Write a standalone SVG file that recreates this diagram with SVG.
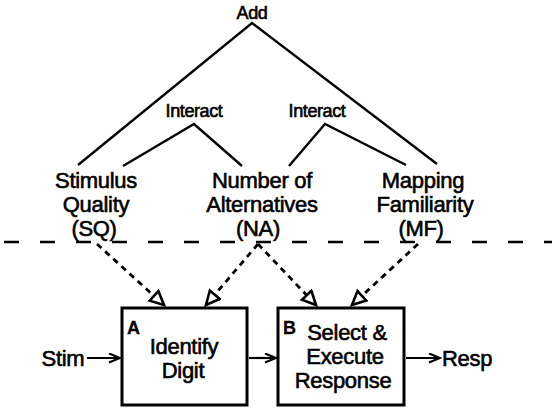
<svg xmlns="http://www.w3.org/2000/svg" width="552" height="408" viewBox="0 0 552 408">
<style>
text{font-family:"Liberation Sans",Arial,sans-serif;fill:#000;stroke:#000;stroke-width:0.6}
.lbl{font-size:22px;text-anchor:middle;letter-spacing:-0.3px}
.op{font-size:18px;text-anchor:middle;letter-spacing:-0.4px}
.tag{font-size:18px;font-weight:bold;stroke-width:0.3}
.tree{stroke:#000;stroke-width:2.4;fill:none}
.box{stroke:#000;stroke-width:3;fill:#fff}
.flow{stroke:#000;stroke-width:2.2;fill:none}
.dash{stroke:#000;stroke-width:2.8;fill:none;stroke-dasharray:6 5}
.sep{stroke:#000;stroke-width:2.5;fill:none;stroke-dasharray:15 21}
</style>
<defs>
<marker id="ah" markerWidth="14" markerHeight="12" refX="12" refY="5" orient="auto" markerUnits="userSpaceOnUse">
<path d="M1,0.5 L12,5 L1,9.5" fill="none" stroke="#000" stroke-width="2.2"/>
</marker>
<marker id="dh" markerWidth="18" markerHeight="18" refX="15" refY="8" orient="auto" markerUnits="userSpaceOnUse">
<path d="M1.5,1.5 L15,8 L1.5,14.5 Z" fill="#fff" stroke="#000" stroke-width="2.6" stroke-linejoin="miter"/>
</marker>
</defs>

<g id="add"><text class="op" x="252" y="19">Add</text></g>
<g id="interact1"><text class="op" x="194" y="117">Interact</text></g>
<g id="interact2"><text class="op" x="317" y="117">Interact</text></g>

<g id="sq"><text class="lbl" x="96" y="188">Stimulus</text><text class="lbl" x="96" y="212">Quality</text><text class="lbl" x="94" y="236">(SQ)</text></g>
<g id="na"><text class="lbl" x="262" y="188">Number of</text><text class="lbl" x="262" y="212">Alternatives</text><text class="lbl" x="258" y="236">(NA)</text></g>
<g id="mf"><text class="lbl" x="423" y="188">Mapping</text><text class="lbl" x="425" y="212">Familiarity</text><text class="lbl" x="421" y="236">(MF)</text></g>

<g id="stim"><text class="lbl" x="63" y="366">Stim</text></g>
<g id="resp"><text class="lbl" x="467" y="366">Resp</text></g>

<g id="boxA">
<rect class="box" x="122" y="308" width="125" height="97"/>
<text class="tag" x="127" y="334">A</text>
<text class="lbl" x="184" y="354">Identify</text>
<text class="lbl" x="183" y="378">Digit</text>
</g>
<g id="boxB">
<rect class="box" x="278" y="308" width="126" height="97"/>
<text class="tag" x="283" y="334">B</text>
<text class="lbl" x="347" y="340">Select &amp;</text>
<text class="lbl" x="345" y="364">Execute</text>
<text class="lbl" x="343" y="388">Response</text>
</g>

<g id="connectors">
<polyline class="tree" points="78,165 252,23 437,164"/>
<polyline class="tree" points="123,166 194,124 242,166"/>
<polyline class="tree" points="289,166 325,124 406,165"/>
<line class="sep" x1="4" y1="242" x2="552" y2="242"/>
<line class="dash" x1="97" y1="244" x2="164" y2="305" marker-end="url(#dh)"/>
<line class="dash" x1="258" y1="244" x2="206" y2="305" marker-end="url(#dh)"/>
<line class="dash" x1="258" y1="244" x2="316" y2="305" marker-end="url(#dh)"/>
<line class="dash" x1="418" y1="244" x2="352" y2="305" marker-end="url(#dh)"/>
<line class="flow" x1="87" y1="358" x2="120" y2="358" marker-end="url(#ah)"/>
<line class="flow" x1="249" y1="358" x2="276" y2="358" marker-end="url(#ah)"/>
<line class="flow" x1="406" y1="358" x2="440" y2="358" marker-end="url(#ah)"/>
</g>
</svg>
